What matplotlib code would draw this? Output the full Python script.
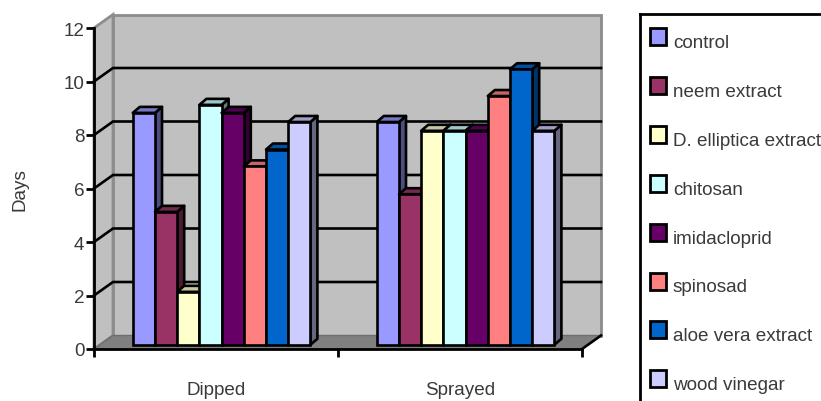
import numpy as np
import matplotlib
matplotlib.use('Agg')
import matplotlib.pyplot as plt
from matplotlib.patches import Polygon, Rectangle
from matplotlib.colors import to_rgb

plt.rcParams['font.family'] = ['Liberation Sans', 'DejaVu Sans']

groups = ['Dipped', 'Sprayed']
series = ['control', 'neem extract', 'D. elliptica extract', 'chitosan',
          'imidacloprid', 'spinosad', 'aloe vera extract', 'wood vinegar']
dipped = [8.67, 4.97, 1.98, 8.97, 8.67, 6.67, 7.3, 8.33]
sprayed = [8.33, 5.63, 8.0, 8.0, 8.0, 9.3, 10.3, 8.0]
colors = ['#9999FF', '#993366', '#FFFFCC', '#CCFFFF',
          '#660066', '#FF8080', '#0066CC', '#CCCCFF']
yticks = [0, 2, 4, 6, 8, 10, 12]

W, H = 821, 402
text_col = '#3A3A3A'
fs = 13.6

fig = plt.figure(figsize=(W / 100, H / 100), dpi=100)
# front plane of the fake 3d box: x 94-582, y 29-350 in pixels
ax = fig.add_axes([94 / W, 1 - 350 / H, 488 / W, 321 / H])
ax.set_xlim(0, 2)
ax.set_ylim(0, 12)
ax.patch.set_visible(False)

# depth of the box in data units
dx = 19 / 244
dy = 13.5 / 26.75
grey_edge = '#8C8C8C'

# walls and floor
ax.add_patch(Polygon([(dx, dy), (2 + dx, dy), (2 + dx, 12 + dy), (dx, 12 + dy)],
                     fc='#C0C0C0', ec=grey_edge, lw=2, clip_on=False, zorder=1))
ax.add_patch(Polygon([(0, 0), (dx, dy), (dx, 12 + dy), (0, 12)],
                     fc='#C0C0C0', ec=grey_edge, lw=2, clip_on=False, zorder=1))
ax.add_patch(Polygon([(0, 0), (2, 0), (2 + dx, dy), (dx, dy)],
                     fc='#808080', ec='#6E6E6E', lw=1, clip_on=False, zorder=1.5))

# gridlines, back wall plus the diagonal on the side wall
for v in yticks[1:-1]:
    ax.plot([0, dx, 2 + dx], [v, v + dy, v + dy], color='black', lw=1.9,
            clip_on=False, zorder=2, solid_joinstyle='miter')
ax.plot([2, 2 + dx], [0, dy], color='black', lw=1.9, clip_on=False, zorder=2)


def shade(col, f):
    return tuple(c * f for c in to_rgb(col))


# bars, left to right so each front hides the side of the one before
bar_w = 22.2 / 244
off_x = 5.6 / 244
off_y = 4.2 / 26.75
depth_x = 7 / 244
depth_y = 6 / 26.75
edge_w = 1.9
z = 3
for g, vals in enumerate([dipped, sprayed]):
    for i, v in enumerate(vals):
        x0 = g + 0.5 + off_x + (i - 4) * bar_w
        x1 = x0 + bar_w
        top = v + off_y
        ax.add_patch(Polygon([(x1, off_y), (x1 + depth_x, off_y + depth_y),
                              (x1 + depth_x, top + depth_y), (x1, top)],
                             fc=shade(colors[i], 0.5), ec='black', lw=edge_w,
                             clip_on=False, zorder=z, joinstyle='round'))
        ax.add_patch(Polygon([(x0, top), (x1, top),
                              (x1 + depth_x, top + depth_y), (x0 + depth_x, top + depth_y)],
                             fc=shade(colors[i], 0.78), ec='black', lw=edge_w,
                             clip_on=False, zorder=z, joinstyle='round'))
        ax.bar(x0, v, width=bar_w, bottom=off_y, align='edge', color=colors[i],
               edgecolor='black', linewidth=edge_w, zorder=z + 0.5)
        z += 1

# axes
for s in ['top', 'right']:
    ax.spines[s].set_visible(False)
for s in ['left', 'bottom']:
    ax.spines[s].set_linewidth(2)
    ax.spines[s].set_zorder(50)
ax.set_yticks(yticks)
ax.tick_params(axis='y', length=6, width=2, pad=1, labelsize=fs, labelcolor=text_col)
ax.set_xticks([0, 1, 2])
ax.set_xticklabels([])
ax.tick_params(axis='x', which='major', length=6, width=2)
ax.set_xticks([0.5, 1.5], minor=True)
ax.set_xticklabels(groups, minor=True, fontsize=fs, color=text_col)
ax.tick_params(axis='x', which='minor', length=0, pad=23)
ax.set_ylabel('Days', fontsize=fs, color=text_col, labelpad=25)

# legend box runs off the right and bottom of the picture
leg = fig.add_axes([640 / W, 0, (W - 640) / W, 1 - 15 / H])
leg.set_xlim(640, W)
leg.set_ylim(H, 15)
leg.patch.set_visible(False)
leg.set_xticks([])
leg.set_yticks([])
for s in ['right', 'bottom']:
    leg.spines[s].set_visible(False)
for s in ['top', 'left']:
    leg.spines[s].set_linewidth(2)
for i, name in enumerate(series):
    yc = 37.5 + i * 48.9
    leg.add_patch(Rectangle((649.5, yc - 8.5), 16.5, 17, fc=colors[i], ec='black', lw=2))
    leg.text(673, yc + 6, name, fontsize=fs, color=text_col, va='center', clip_on=True)

fig.savefig('out.png', dpi=100)
